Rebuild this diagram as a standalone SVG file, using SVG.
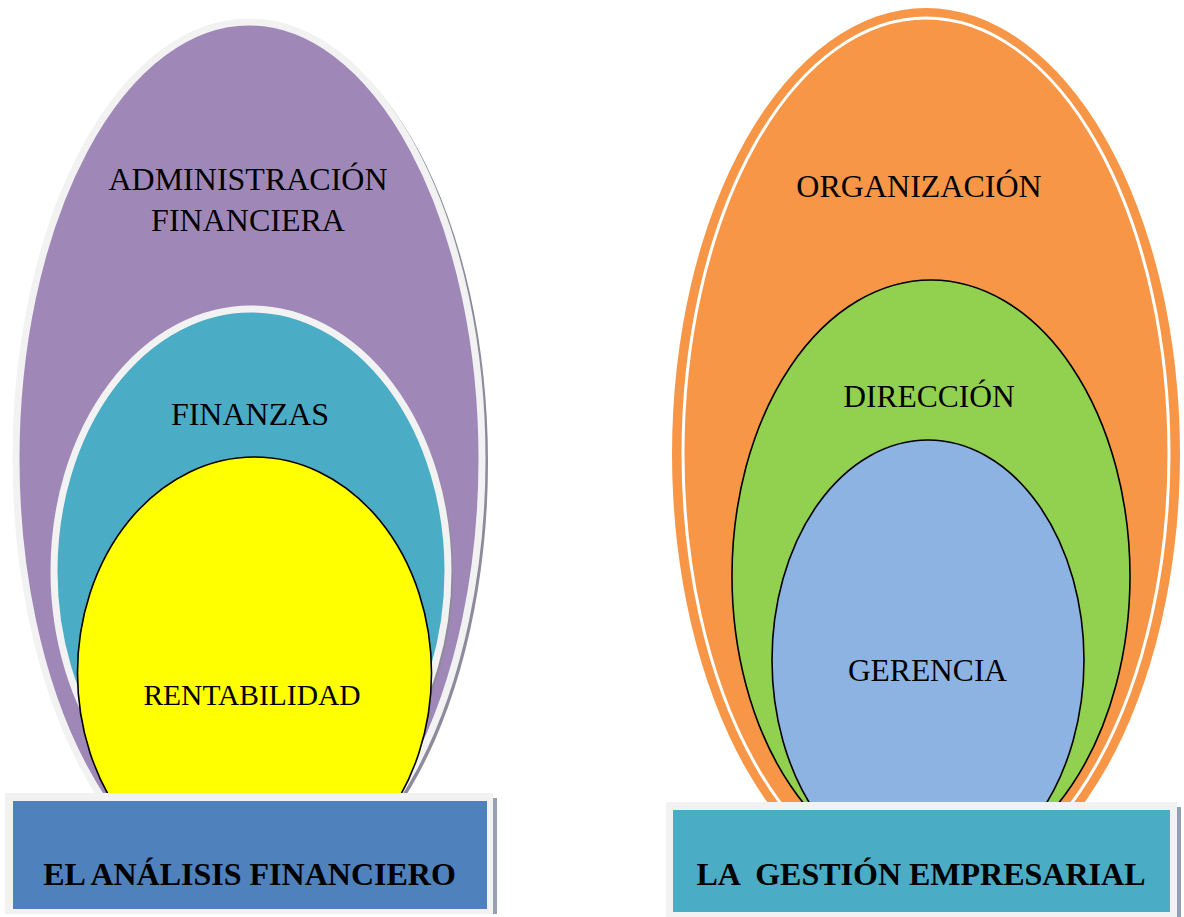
<svg xmlns="http://www.w3.org/2000/svg" width="1184" height="917" viewBox="0 0 1184 917">
<style>
.lbl{font-family:"Liberation Serif","Times New Roman",serif;fill:#000;text-anchor:middle}
.big{font-size:31.5px}
.box{font-size:32px;font-weight:bold}
.edge{stroke:#000;stroke-width:1.6}
.halo{stroke:#f2f2f2;stroke-width:7}
.shadow{fill:#8e8a9c}
</style>
<rect width="1184" height="917" fill="#fff"/>
<g id="administracion">
<ellipse class="shadow" cx="252" cy="462" rx="236" ry="440"/>
<ellipse class="halo" cx="249" cy="459" rx="233" ry="437" fill="#9f88b8"/>
<text class="lbl" x="248" y="190" font-size="32">ADMINISTRACIÓN</text>
<text class="lbl" x="248" y="231" font-size="32">FINANCIERA</text>
</g>
<g id="finanzas">
<ellipse class="shadow" cx="253" cy="574" rx="200" ry="265"/>
<ellipse class="halo" cx="251" cy="571" rx="197" ry="262" fill="#4bacc6"/>
<text class="lbl" x="250" y="425" font-size="32">FINANZAS</text>
</g>
<g id="rentabilidad">
<ellipse class="edge" cx="254.5" cy="673" rx="177" ry="216" fill="#ffff00"/>
<text class="lbl" x="252" y="705" font-size="29.5">RENTABILIDAD</text>
</g>
<g id="organizacion">
<ellipse cx="926" cy="454" rx="254" ry="446" fill="#f79646"/>
<ellipse cx="926" cy="454" rx="243" ry="436" fill="none" stroke="#fff" stroke-width="3"/>
<text class="lbl" x="919" y="197" font-size="32">ORGANIZACIÓN</text>
</g>
<g id="direccion">
<ellipse class="edge" cx="931" cy="576" rx="199" ry="296" fill="#92d050"/>
<text class="lbl big" x="929" y="407">DIRECCIÓN</text>
</g>
<g id="gerencia">
<ellipse class="edge" cx="928" cy="660" rx="156" ry="220" fill="#8db3e2"/>
<text class="lbl big" x="927.5" y="681">GERENCIA</text>
</g>
<g id="connectors"></g>
<g id="analisis">
<rect x="493" y="798" width="4" height="116" fill="#95a0b4"/>
<rect x="5" y="793" width="488" height="121" fill="#f2f2f2"/>
<rect x="13" y="801" width="474" height="108" fill="#4f81bd"/>
<text class="lbl box" x="249.5" y="885">EL ANÁLISIS FINANCIERO</text>
</g>
<g id="gestion">
<rect x="1177" y="807" width="4" height="110" fill="#95a0b4"/>
<rect x="666" y="802" width="511" height="115" fill="#f2f2f2"/>
<rect x="673" y="810" width="497" height="102" fill="#4bacc6"/>
<text class="lbl box" x="921" y="885" xml:space="preserve">LA  GESTIÓN EMPRESARIAL</text>
</g>
</svg>
